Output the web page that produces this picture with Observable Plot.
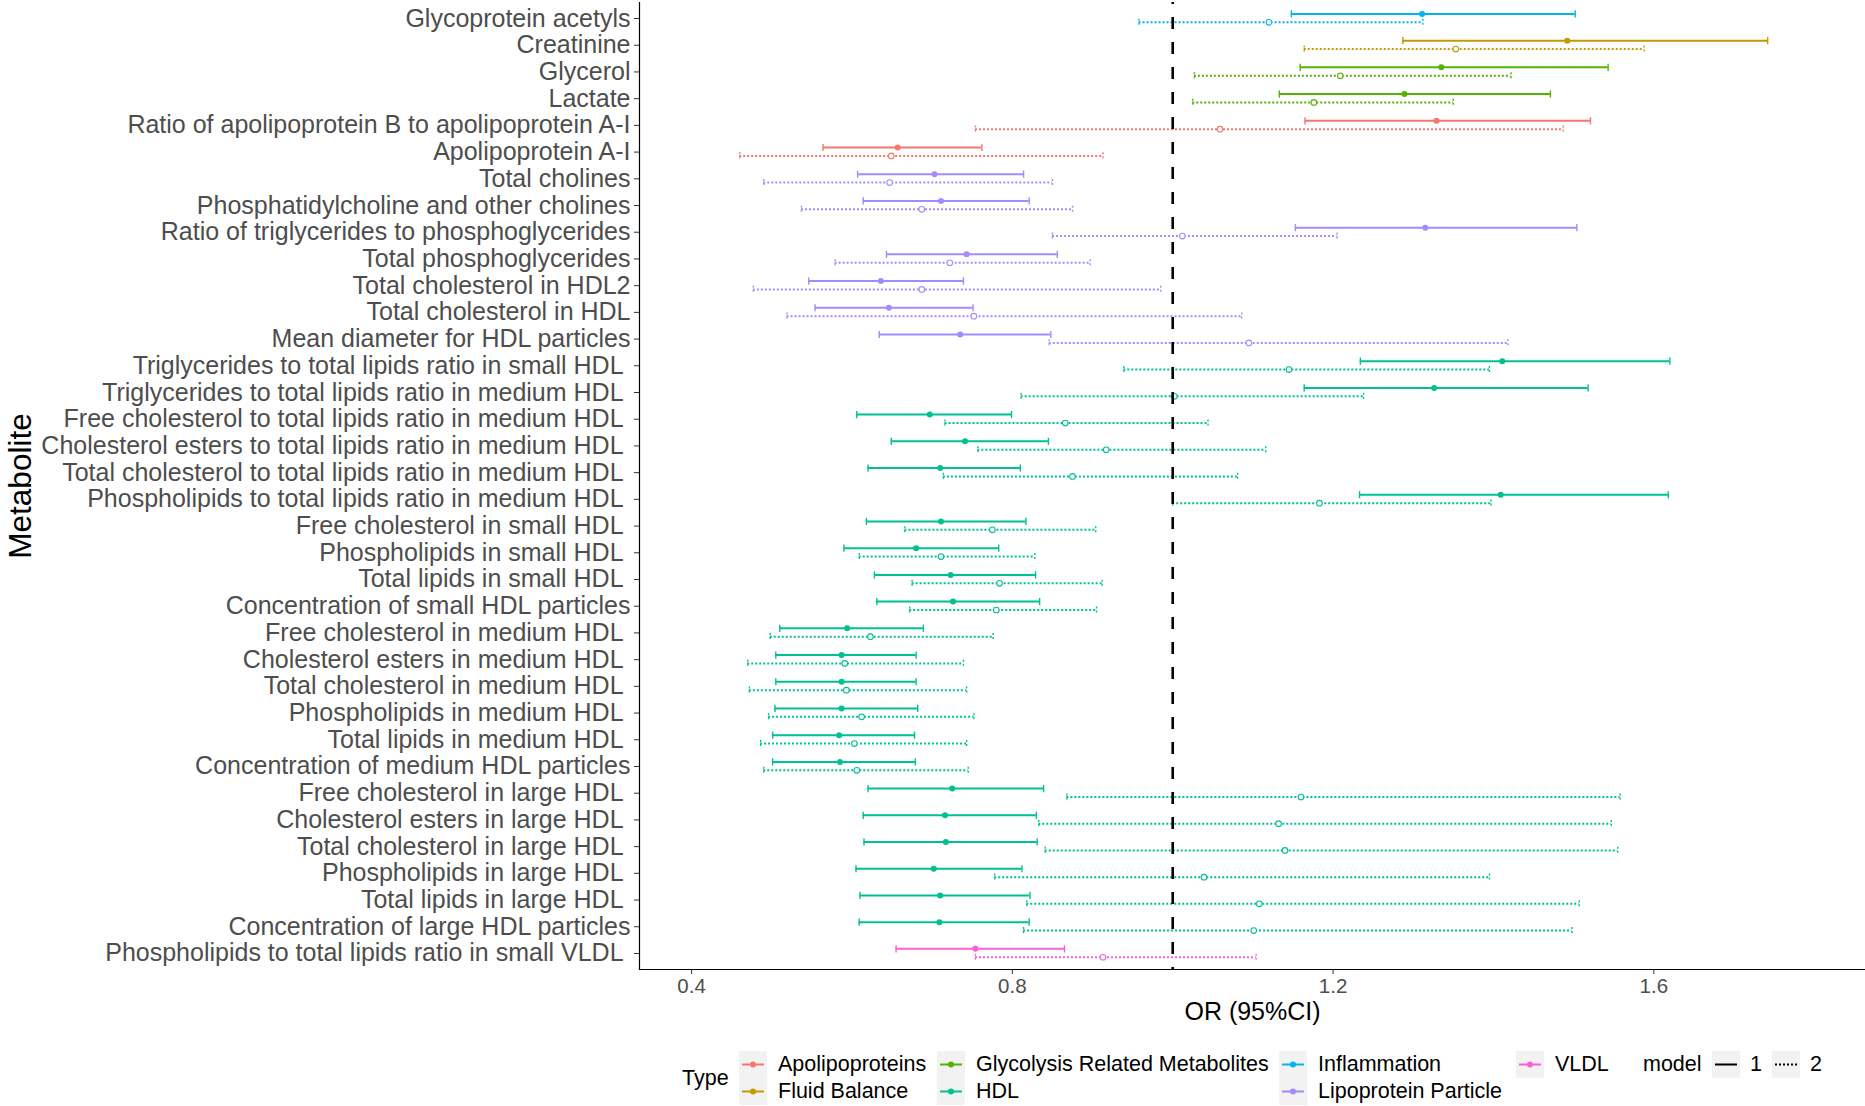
<!DOCTYPE html>
<html><head><meta charset="utf-8">
<script src="https://cdn.jsdelivr.net/npm/d3@7"></script>
<script src="https://cdn.jsdelivr.net/npm/@observablehq/plot@0.6"></script>
<style>
html,body{margin:0;padding:0;background:#fff;}
#wrap{position:relative;width:1865px;height:1106px;font-family:"Liberation Sans",Arial,sans-serif;overflow:hidden;background:#fff;}
#legend .t{position:absolute;font-size:21.5px;line-height:27px;height:27px;color:#000;white-space:nowrap;}
#legend svg{position:absolute;}
</style></head><body><div id="wrap"><div id="chart"></div><div id="legend"></div></div>
<script>
// ---------- data ----------
const metabolites = [
  "Glycoprotein acetyls",
  "Creatinine",
  "Glycerol",
  "Lactate",
  "Ratio of apolipoprotein B to apolipoprotein A-I",
  "Apolipoprotein A-I",
  "Total cholines",
  "Phosphatidylcholine and other cholines",
  "Ratio of triglycerides to phosphoglycerides",
  "Total phosphoglycerides",
  "Total cholesterol in HDL2",
  "Total cholesterol in HDL",
  "Mean diameter for HDL particles",
  "Triglycerides to total lipids ratio in small HDL ",
  "Triglycerides to total lipids ratio in medium HDL ",
  "Free cholesterol to total lipids ratio in medium HDL ",
  "Cholesterol esters to total lipids ratio in medium HDL ",
  "Total cholesterol to total lipids ratio in medium HDL ",
  "Phospholipids to total lipids ratio in medium HDL ",
  "Free cholesterol in small HDL ",
  "Phospholipids in small HDL ",
  "Total lipids in small HDL ",
  "Concentration of small HDL particles",
  "Free cholesterol in medium HDL ",
  "Cholesterol esters in medium HDL ",
  "Total cholesterol in medium HDL ",
  "Phospholipids in medium HDL ",
  "Total lipids in medium HDL ",
  "Concentration of medium HDL particles",
  "Free cholesterol in large HDL ",
  "Cholesterol esters in large HDL ",
  "Total cholesterol in large HDL ",
  "Phospholipids in large HDL ",
  "Total lipids in large HDL ",
  "Concentration of large HDL particles",
  "Phospholipids to total lipids ratio in small VLDL "
];
const metaboliteTypes = [
  "Inflammation","Fluid Balance","Glycolysis Related Metabolites","Glycolysis Related Metabolites",
  "Apolipoproteins","Apolipoproteins",
  "Lipoprotein Particle","Lipoprotein Particle","Lipoprotein Particle","Lipoprotein Particle",
  "Lipoprotein Particle","Lipoprotein Particle","Lipoprotein Particle",
  "HDL","HDL","HDL","HDL","HDL","HDL","HDL","HDL","HDL","HDL","HDL",
  "HDL","HDL","HDL","HDL","HDL","HDL","HDL","HDL","HDL","HDL","HDL",
  "VLDL"
];
// model 1 (solid)
const or1 = [1.311,1.492,1.335,1.289,1.329,0.657,0.703,0.711,1.315,0.743,0.636,0.646,0.735,
  1.411,1.326,0.697,0.741,0.710,1.409,0.711,0.680,0.723,0.726,0.594,0.587,0.587,0.587,0.584,0.585,
  0.725,0.716,0.717,0.702,0.710,0.709,0.754];
const lo1 = [1.148,1.287,1.159,1.133,1.165,0.564,0.607,0.614,1.153,0.643,0.546,0.554,0.634,
  1.234,1.164,0.606,0.649,0.620,1.233,0.618,0.590,0.628,0.631,0.510,0.505,0.505,0.504,0.501,0.501,
  0.620,0.614,0.615,0.605,0.610,0.609,0.655];
const hi1 = [1.502,1.742,1.543,1.471,1.521,0.762,0.814,0.821,1.504,0.856,0.739,0.751,0.848,
  1.620,1.518,0.799,0.845,0.810,1.618,0.817,0.783,0.829,0.834,0.689,0.680,0.680,0.682,0.678,0.679,
  0.839,0.830,0.831,0.812,0.822,0.821,0.865];
// model 2 (dotted)
const or2 = [1.120,1.353,1.209,1.176,1.059,0.649,0.647,0.687,1.012,0.722,0.687,0.752,1.095,
  1.145,1.002,0.866,0.917,0.875,1.183,0.775,0.711,0.784,0.780,0.623,0.591,0.593,0.612,0.603,0.606,
  1.160,1.132,1.140,1.039,1.108,1.101,0.913];
const lo2 = [0.958,1.164,1.027,1.025,0.754,0.460,0.490,0.537,0.850,0.579,0.477,0.519,0.846,
  0.939,0.811,0.716,0.757,0.714,1.000,0.666,0.609,0.675,0.672,0.498,0.470,0.472,0.496,0.486,0.490,
  0.868,0.833,0.841,0.778,0.818,0.814,0.754];
const hi2 = [1.312,1.588,1.422,1.350,1.487,0.913,0.850,0.875,1.205,0.897,0.985,1.086,1.418,
  1.395,1.238,1.044,1.116,1.081,1.397,0.904,0.828,0.912,0.905,0.776,0.739,0.743,0.752,0.743,0.745,
  1.558,1.547,1.555,1.395,1.507,1.498,1.104];

const typeNames = ["Apolipoproteins","Fluid Balance","Glycolysis Related Metabolites","HDL","Inflammation","Lipoprotein Particle","VLDL"];
const typeColors = ["#F8766D","#C49A00","#53B400","#00C094","#00B6EB","#A58AFF","#FB61D7"];
const modelNames = ["1","2"];
const xTicks = [0.4, 0.8, 1.2, 1.6];
const xDomain = [0.335, 1.864];
const refLine = [1];

// ---------- build ----------
const rows1 = metabolites.map((m,i)=>({metabolite:m,type:metaboliteTypes[i],or:or1[i],lo:lo1[i],hi:hi1[i]}));
const rows2 = metabolites.map((m,i)=>({metabolite:m,type:metaboliteTypes[i],or:or2[i],lo:lo2[i],hi:hi2[i]}));

const capSymbol = {draw(ctx, size){ const h = Math.sqrt(size/Math.PI); ctx.moveTo(0,-h); ctx.lineTo(0,h); }};

function modelMarks(rows, dy, dash, open){
  const c = {y:"metabolite", dy, stroke:"type"};
  return [
    Plot.ruleY(rows, {...c, x1:"lo", x2:"hi", strokeWidth:2, strokeDasharray:dash}),
    Plot.dot(rows, {...c, x:"lo", symbol:capSymbol, r:3.6, fill:"none", strokeWidth:1.4, strokeDasharray:dash}),
    Plot.dot(rows, {...c, x:"hi", symbol:capSymbol, r:3.6, fill:"none", strokeWidth:1.4, strokeDasharray:dash}),
    open
      ? Plot.dot(rows, {...c, x:"or", r:2.8, fill:"white", strokeWidth:1.1})
      : Plot.dot(rows, {x:"or", y:"metabolite", dy, r:3, fill:"type", stroke:"none"})
  ];
}

const chart = Plot.plot({
  width: 1865, height: 1045,
  marginLeft: 639, marginRight: 0, marginTop: 2, marginBottom: 76,
  style: {fontFamily: '"Liberation Sans", Arial, sans-serif', background: "white", overflow: "visible"},
  x: {domain: xDomain},
  y: {type: "point", domain: metabolites, padding: 0.6, round: false},
  color: {domain: typeNames, range: typeColors},
  marks: [
    ...modelMarks(rows2, 3.8, "2,2", true),
    ...modelMarks(rows1, -4.6, null, false),
    Plot.ruleX(refLine, {stroke: "black", strokeWidth: 2.6, strokeDasharray: "12,13", strokeDashoffset: 10}),
    Plot.frame({anchor: "left", stroke: "black", strokeWidth: 1.2}),
    Plot.frame({anchor: "bottom", stroke: "black", strokeWidth: 1.2}),
    Plot.axisY({tickSize: 5, tickPadding: 4, fontSize: 25, stroke: "#333", fill: "#4d4d4d", label: null,
      tickFormat: d => d.replace(/ $/, "\u00a0")}),
    Plot.axisX({ticks: xTicks, tickSize: 5, tickPadding: 4, fontSize: 20.5, stroke: "#333", fill: "#4d4d4d",
      label: null, tickFormat: d3.format(".1f")}),
    Plot.text(["OR (95%CI)"], {frameAnchor: "bottom", dy: 50, fontSize: 25, fill: "black"}),
    Plot.text(["Metabolite"], {frameAnchor: "left", textAnchor: "middle", dx: -619, rotate: -90, fontSize: 31.5, fill: "black"})
  ]
});
document.getElementById("chart").appendChild(chart);

// ---------- legend (HTML below the svg) ----------
const legend = document.getElementById("legend");
const rowTop = [1051, 1078];
function addText(txt, left, top){
  const d = document.createElement("div");
  d.className = "t"; d.textContent = txt;
  d.style.left = left + "px"; d.style.top = top + "px";
  legend.appendChild(d);
}
function addKey(left, top, color, dash, dot){
  const ns = "http://www.w3.org/2000/svg";
  const s = document.createElementNS(ns, "svg");
  s.setAttribute("width", 28); s.setAttribute("height", 27);
  s.style.left = left + "px"; s.style.top = top + "px";
  const bg = document.createElementNS(ns, "rect");
  bg.setAttribute("width", 28); bg.setAttribute("height", 27); bg.setAttribute("fill", "#F2F2F2");
  s.appendChild(bg);
  const ln = document.createElementNS(ns, "line");
  ln.setAttribute("x1", 3); ln.setAttribute("x2", 25); ln.setAttribute("y1", 13.5); ln.setAttribute("y2", 13.5);
  ln.setAttribute("stroke", color); ln.setAttribute("stroke-width", 2);
  if (dash) ln.setAttribute("stroke-dasharray", dash);
  s.appendChild(ln);
  if (dot){
    const c = document.createElementNS(ns, "circle");
    c.setAttribute("cx", 14); c.setAttribute("cy", 13.5); c.setAttribute("r", 3); c.setAttribute("fill", color);
    s.appendChild(c);
  }
  legend.appendChild(s);
}
addText("Type", 682, 1065);
const colKeyX = [739, 937, 1279, 1516];
typeNames.forEach((t, i) => {
  const col = Math.floor(i / 2), row = i % 2;
  addKey(colKeyX[col], rowTop[row], typeColors[i], null, true);
  addText(t, colKeyX[col] + 39, rowTop[row]);
});
addText("model", 1643, rowTop[0]);
const modelKeyX = [1712, 1772];
const modelDash = [null, "2,2"];
modelNames.forEach((m, i) => {
  addKey(modelKeyX[i], rowTop[0], "black", modelDash[i], false);
  addText(m, modelKeyX[i] + 38, rowTop[0]);
});
</script></body></html>
